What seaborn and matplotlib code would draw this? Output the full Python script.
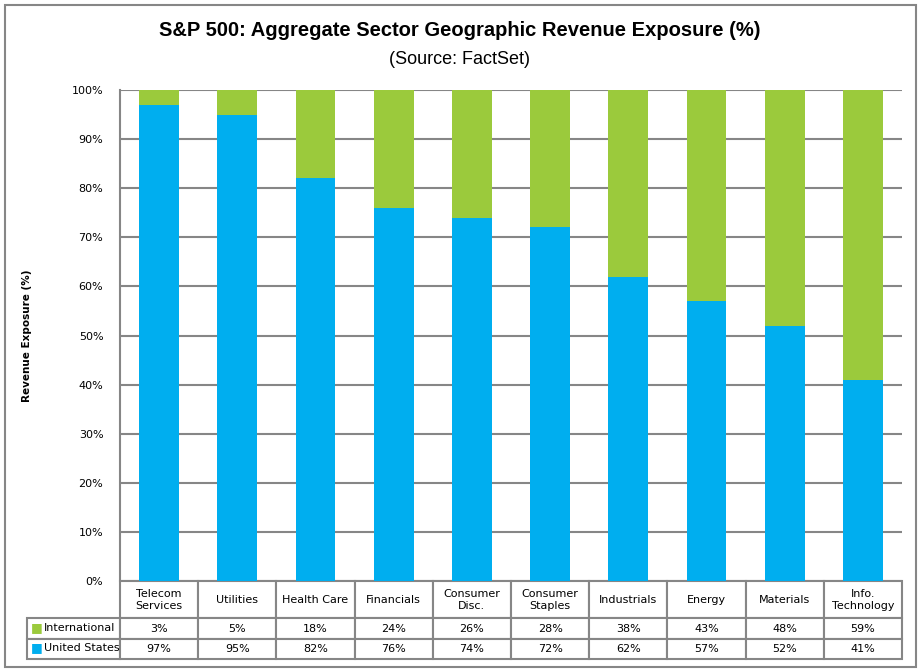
import matplotlib
matplotlib.use("Agg")
import matplotlib.pyplot as plt
from matplotlib.patches import Rectangle
import seaborn as sns
import pandas as pd

categories = ["Telecom\nServices", "Utilities", "Health Care", "Financials", "Consumer\nDisc.",
              "Consumer\nStaples", "Industrials", "Energy", "Materials", "Info.\nTechnology"]
international = [3, 5, 18, 24, 26, 28, 38, 43, 48, 59]
united_states = [97, 95, 82, 76, 74, 72, 62, 57, 52, 41]
yticks = [0, 10, 20, 30, 40, 50, 60, 70, 80, 90, 100]

BLUE = "#00AEEF"
GREEN = "#9BCA3C"
GRAY = "#868686"

sns.set_theme(style="white")
plt.rcParams['font.family'] = ['Liberation Sans', 'DejaVu Sans']
plt.rcParams['text.color'] = 'black'
plt.rcParams['axes.labelcolor'] = 'black'
plt.rcParams['ytick.color'] = 'black'

df = pd.DataFrame({"cat": categories, "intl": international, "us": united_states})
df["total"] = df["intl"] + df["us"]

fig = plt.figure(figsize=(9.2, 6.71), dpi=100)
ax = fig.add_axes([120/920, 1-581/671, 782/920, 491/671])

sns.barplot(data=df, x="cat", y="total", color=GREEN, width=0.51, saturation=1, ax=ax,
            zorder=3, linewidth=0, edgecolor="none")
sns.barplot(data=df, x="cat", y="us", color=BLUE, width=0.51, saturation=1, ax=ax,
            zorder=3, linewidth=0, edgecolor="none")

ax.set_ylim(0, 100)
ax.set_xlim(-0.5, len(categories) - 0.5)
ax.set_yticks(yticks)
ax.set_yticklabels([f"{v}%" for v in yticks], fontsize=8, family=['DejaVu Sans'], color='black')
ax.tick_params(axis='y', length=0, pad=12)
ax.set_xticks([])
ax.set_xlabel("")
ax.set_ylabel("Revenue Exposure (%)", fontsize=7.5, fontweight='bold', family=['DejaVu Sans'],
              color='black')
ax.yaxis.set_label_coords((32-120)/782, 0.5)
ax.yaxis.grid(True, color=GRAY, linewidth=1.5, zorder=0)
ax.set_axisbelow(True)
for s in ["top", "right", "bottom"]:
    ax.spines[s].set_visible(False)
ax.spines["left"].set_color(GRAY)
ax.spines["left"].set_linewidth(1.5)

# Data table
cell_text = [[""] + [c for c in categories],
             [""] + [f"{v}%" for v in international],
             [""] + [f"{v}%" for v in united_states]]
label_w = 93
col_w = 782 / len(categories)
widths = [label_w] + [col_w] * len(categories)
tot_w = sum(widths)
tab = ax.table(cellText=cell_text, colWidths=[w / tot_w for w in widths], cellLoc='center',
               bbox=[-label_w/782, -78/491, tot_w/782, 78/491])
tab.auto_set_font_size(False)
tab.set_fontsize(8)
for (r, c), cell in tab.get_celld().items():
    cell.set_edgecolor(GRAY)
    cell.set_linewidth(1.5)
    cell.set_height(37 if r == 0 else 20)
    cell.get_text().set_family(['DejaVu Sans'])
    cell.get_text().set_color('black')
    if r == 0 and c == 0:
        cell.visible_edges = ''

labels = ["International", "United States"]
colors = [GREEN, BLUE]
for i, (lab, col) in enumerate(zip(labels, colors)):
    yc = -(37 + 10 + 20 * i) / 491
    ax.text((31-120)/782, yc, "■", color=col, fontsize=9, va='center', ha='left',
            transform=ax.transAxes, family=['DejaVu Sans'])
    ax.text((44-120)/782, yc, lab, color='black', fontsize=8, va='center', ha='left',
            transform=ax.transAxes, family=['DejaVu Sans'])

fig.text(0.5, 1-30/671, "S&P 500: Aggregate Sector Geographic Revenue Exposure (%)",
         ha='center', va='center', fontsize=14.5, fontweight='bold', color='black')
fig.text(0.5, 1-59/671, "(Source: FactSet)", ha='center', va='center', fontsize=13,
         color='black')

fig.patches.append(Rectangle((5/920, 4/671), 911/920, 662/671, transform=fig.transFigure,
                             fill=False, edgecolor=GRAY, linewidth=1.5))

fig.savefig("out.png", dpi=100)
